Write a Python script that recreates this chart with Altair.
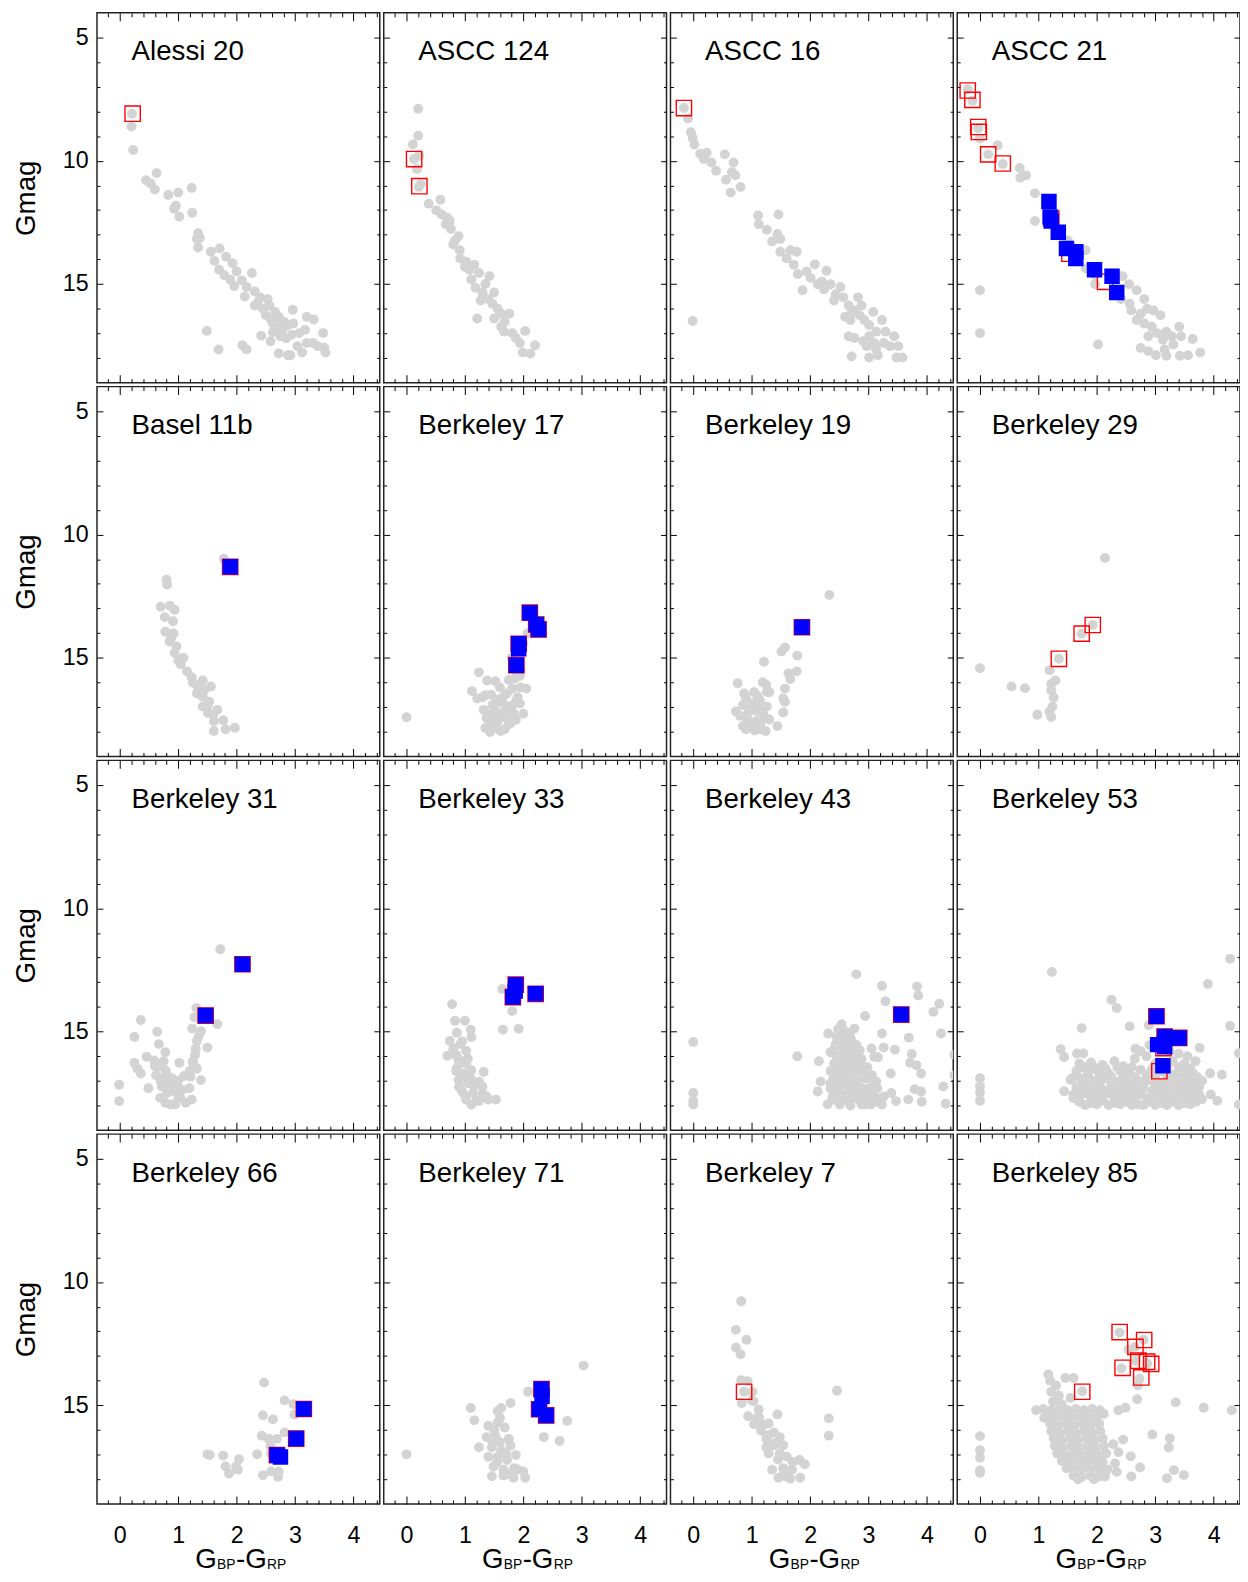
import altair as alt
import pandas as pd

# ---------------- data (G_BP-G_RP, Gmag) ----------------
alessi20_gray = [(0.21,8.09),(0.20,8.61),(0.23,9.56),(0.45,10.79),(0.53,10.92),(0.63,10.50),(0.60,11.16),(0.83,11.39),(1.00,11.29),(1.23,11.10),(0.96,11.82),(0.93,11.95),(1.02,12.27),(1.24,12.11),(1.34,12.94),(1.37,13.13),(1.32,13.17),(1.34,13.52),(1.56,13.69),(1.71,13.56),(1.62,14.06),(1.82,13.89),(1.93,14.16),(1.70,14.42),(1.79,14.64),(2.00,14.49),(1.89,14.82),(1.96,15.08),(2.09,14.85),(2.17,15.12),(2.26,14.55),(2.14,15.51),(2.31,15.30),(2.40,15.54),(2.31,15.87),(2.53,15.61),(2.45,16.00),(2.56,15.87),(2.50,16.27),(2.66,16.13),(2.59,16.46),(2.72,16.33),(2.81,16.53),(2.68,16.73),(2.78,16.86),(2.88,16.66),(2.97,16.60),(2.96,16.04),(3.20,16.33),(3.32,16.44),(3.17,16.86),(3.07,16.99),(2.94,17.06),(2.75,17.12),(2.58,17.32),(2.42,17.10),(2.72,17.81),(2.88,17.89),(2.92,17.89),(3.12,17.78),(3.04,17.52),(3.20,17.39),(3.31,17.39),(3.48,16.99),(3.50,17.58),(3.52,17.78),(3.39,17.52),(1.49,16.90),(1.69,17.65),(2.10,17.48),(2.17,17.65),(2.62,16.60),(2.36,15.75),(2.62,16.95),(2.85,17.20)]
alessi20_red = [(0.22,8.09)]
alessi20_blue = []

ascc124_gray = [(0.20,7.89),(0.20,8.98),(0.11,9.34),(0.22,9.80),(0.13,9.93),(0.18,10.33),(0.24,10.95),(0.21,11.06),(0.58,11.58),(0.38,11.74),(0.51,12.01),(0.60,12.18),(0.70,12.31),(0.74,12.44),(0.67,12.57),(0.76,12.77),(0.89,13.06),(0.83,13.23),(0.91,13.63),(0.92,13.96),(1.02,14.09),(1.16,14.22),(1.08,14.42),(1.24,14.55),(1.42,14.68),(1.11,14.82),(1.18,15.15),(1.30,15.34),(1.50,15.34),(1.40,15.61),(1.27,15.67),(1.47,15.80),(1.56,16.00),(1.62,16.20),(1.76,16.20),(1.21,16.40),(1.50,16.40),(1.68,16.53),(1.62,16.73),(1.67,16.93),(1.81,16.99),(2.03,16.90),(1.94,17.39),(2.20,17.48),(1.99,17.78),(2.12,17.82),(1.87,17.19),(0.80,13.40),(1.00,14.30),(1.35,15.00)]
ascc124_red = [(0.13,9.93),(0.22,11.03)]
ascc124_blue = []

ascc16_gray = [(-0.16,7.86),(-0.09,8.28),(-0.04,8.84),(-0.01,9.08),(0.02,9.34),(0.12,9.71),(0.23,9.67),(0.18,9.93),(0.31,10.07),(0.39,10.40),(0.54,9.74),(0.69,10.07),(0.66,10.46),(0.72,10.59),(0.56,10.77),(0.81,11.06),(0.64,11.29),(1.11,12.22),(1.46,12.18),(1.12,12.57),(1.26,12.80),(1.44,12.97),(1.35,13.27),(1.49,13.17),(1.49,13.69),(1.66,13.63),(1.77,13.69),(1.60,13.96),(1.72,14.22),(1.79,14.59),(1.87,15.25),(1.94,14.49),(2.08,14.20),(2.01,14.75),(2.28,14.46),(2.13,15.01),(2.24,15.21),(2.35,15.01),(2.44,15.41),(2.52,15.12),(2.41,15.67),(2.57,15.54),(2.66,15.87),(2.82,15.54),(2.76,16.07),(2.88,15.87),(2.60,16.33),(2.69,16.46),(2.85,16.27),(2.93,16.46),(3.08,16.13),(3.01,16.66),(3.23,16.46),(2.66,17.12),(2.76,17.19),(2.91,17.32),(3.01,17.12),(3.13,16.93),(3.29,16.93),(3.44,17.12),(3.26,17.39),(3.37,17.52),(3.51,17.52),(2.97,17.52),(3.13,17.65),(2.71,17.94),(3.01,17.98),(3.16,17.89),(3.48,17.98),(3.58,17.98),(-0.01,16.50),(2.20,14.90),(2.70,16.20),(3.10,17.40)]
ascc16_red = [(-0.16,7.86)]
ascc16_blue = []

ascc21_gray = [(-0.21,7.10),(-0.13,7.56),(-0.03,8.68),(0.00,9.10),(0.30,9.37),(0.14,9.74),(0.39,10.13),(0.68,10.29),(0.79,10.59),(0.69,10.69),(0.94,11.32),(1.16,12.44),(0.94,12.44),(1.50,13.23),(1.81,13.63),(1.81,14.36),(1.97,14.62),(1.97,15.01),(2.44,14.68),(2.55,15.01),(2.68,15.25),(2.41,15.61),(2.56,15.80),(2.59,16.07),(2.81,15.61),(2.75,16.20),(2.86,16.00),(2.68,16.46),(2.97,16.07),(3.09,16.27),(2.81,16.60),(2.94,16.73),(2.88,17.12),(3.03,16.99),(3.19,16.93),(3.13,17.26),(3.28,17.12),(3.41,16.73),(3.44,17.12),(3.31,17.45),(3.16,17.65),(3.01,17.89),(3.19,17.91),(3.42,17.91),(3.56,17.89),(3.64,17.23),(3.77,17.78),(2.75,17.59),(2.88,17.72),(2.02,17.45),(0.00,15.25),(0.00,16.99)]
ascc21_red = [(-0.21,7.15),(-0.13,7.53),(-0.03,8.63),(-0.02,8.83),(0.14,9.74),(0.39,10.11),(1.22,12.35),(1.53,13.77),(2.14,14.91)]
ascc21_blue = [(1.18,11.65),(1.20,12.28),(1.22,12.44),(1.34,12.90),(1.48,13.56),(1.64,13.69),(1.64,13.96),(1.96,14.42),(2.26,14.68),(2.34,15.34)]

basel11b_gray = [(1.78,10.98),(0.80,11.83),(0.81,12.03),(0.70,12.93),(0.86,12.89),(0.94,13.05),(0.77,13.35),(0.91,13.52),(0.78,13.94),(0.92,14.01),(0.85,14.34),(0.97,14.54),(0.94,14.80),(1.09,15.00),(1.04,15.26),(1.15,15.55),(1.23,15.79),(1.42,15.92),(1.32,16.12),(1.56,16.16),(1.32,16.45),(1.42,16.58),(1.53,16.78),(1.42,16.98),(1.67,17.11),(1.51,17.24),(1.61,17.57),(1.77,17.53),(1.61,17.97),(1.81,17.90),(1.97,17.84),(0.88,14.20),(1.00,15.10),(1.25,16.00),(1.45,16.30),(1.50,16.95),(1.60,17.30)]
basel11b_red = [(1.89,11.31)]
basel11b_blue = [(1.89,11.31)]

berkeley17_gray = [(0.00,17.41),(1.24,15.59),(1.38,15.92),(1.52,15.95),(1.12,16.35),(1.21,16.65),(1.35,16.52),(1.32,17.11),(1.47,16.91),(1.43,17.70),(1.56,17.57),(1.65,17.24),(1.72,16.45),(1.81,16.25),(1.87,16.78),(1.94,16.85),(2.00,17.27),(1.78,17.64),(1.61,17.97),(1.43,18.01),(1.68,17.90),(2.05,16.25),(1.94,15.73),(1.80,15.00),(2.00,14.41),(2.07,14.01),(1.73,17.11),(1.52,17.11),(1.37,17.44),(1.83,17.24),(1.61,16.78),(1.87,17.51),(1.30,16.60),(1.45,16.50),(1.55,16.70),(1.65,16.60),(1.40,17.30),(1.50,17.35),(1.60,17.45),(1.70,17.40),(1.75,17.70),(1.55,17.85),(1.35,17.85),(1.45,17.60),(1.80,16.95),(1.70,16.95),(1.90,16.60),(1.95,16.20),(1.85,15.85),(1.95,15.50),(1.90,15.70),(1.60,16.20),(1.75,15.90)]
berkeley17_red = [(2.11,13.17),(2.22,13.65),(2.26,13.85),(1.92,14.43),(1.88,15.30)]
berkeley17_blue = [(2.11,13.17),(2.22,13.65),(2.26,13.85),(1.92,14.43),(1.92,14.63),(1.88,15.30)]

berkeley19_gray = [(2.33,12.45),(1.57,14.58),(1.51,14.74),(1.78,14.91),(1.21,15.16),(1.63,15.63),(1.77,15.55),(1.66,15.86),(1.57,16.25),(0.76,16.03),(1.19,15.99),(0.87,16.45),(1.04,16.39),(1.26,16.39),(1.54,16.65),(1.57,16.78),(1.54,17.22),(0.73,17.18),(0.85,16.91),(1.01,16.85),(1.14,16.72),(1.26,16.98),(0.94,17.24),(1.10,17.18),(1.22,17.44),(0.85,17.77),(1.01,17.84),(1.16,17.90),(1.24,17.97),(1.44,17.77),(1.07,17.57),(0.92,17.51),(0.90,16.60),(1.10,16.55),(1.00,17.00),(1.15,17.05),(0.80,17.35),(1.20,17.30),(0.95,17.60),(1.15,17.65),(0.90,17.90),(1.05,17.95),(1.30,17.50),(1.30,16.40),(1.25,16.10)]
berkeley19_red = [(1.86,13.76)]
berkeley19_blue = [(1.86,13.76)]

berkeley29_gray = [(2.14,10.95),(1.93,13.67),(1.74,14.02),(1.35,15.04),(0.00,15.42),(0.54,16.16),(0.77,16.23),(1.19,15.50),(1.29,15.92),(1.22,16.06),(1.22,16.32),(1.26,16.61),(1.24,16.98),(1.19,17.18),(0.98,17.31),(1.22,17.40)]
berkeley29_red = [(1.93,13.67),(1.74,14.02),(1.35,15.04)]
berkeley29_blue = []

berkeley31_gray = [(1.72,11.66),(1.31,14.04),(1.28,14.42),(1.67,14.70),(1.24,14.88),(1.39,14.99),(1.50,15.65),(1.32,15.38),(1.29,15.94),(1.26,16.31),(1.32,16.50),(1.39,16.97),(1.21,16.83),(1.19,17.30),(1.02,16.27),(0.36,14.53),(0.64,15.01),(0.25,15.22),(0.67,15.51),(0.78,15.84),(0.46,16.02),(0.59,16.17),(0.25,16.27),(0.30,16.50),(0.36,16.70),(0.65,16.44),(0.78,16.57),(0.62,16.77),(0.75,16.90),(0.86,17.10),(0.97,17.16),(0.72,17.23),(0.49,17.30),(-0.01,17.16),(-0.01,17.82),(0.81,17.49),(0.94,17.43),(1.07,17.36),(0.78,17.89),(0.87,17.96),(1.13,17.89),(1.23,17.76),(1.04,17.69),(0.69,17.69),(0.80,16.70),(0.90,16.90),(1.00,17.00),(0.85,17.40),(1.00,17.70),(0.95,17.95),(0.70,17.00),(1.10,16.80),(1.20,16.60),(1.25,16.20),(1.30,15.70),(1.35,15.20),(0.60,16.40),(0.75,16.20)]
berkeley31_red = [(2.10,12.27),(1.47,14.35)]
berkeley31_blue = [(2.10,12.27),(1.47,14.35)]

berkeley33_gray = [(1.64,13.27),(1.81,14.17),(1.65,14.92),(1.92,14.89),(0.78,13.89),(0.83,14.56),(1.00,14.56),(1.10,14.92),(0.86,15.05),(1.11,15.22),(0.74,15.38),(0.92,15.51),(1.02,15.78),(0.70,15.98),(0.89,16.11),(1.02,16.31),(0.86,16.50),(0.99,16.70),(1.11,16.57),(1.32,16.64),(0.89,16.97),(1.05,17.10),(1.24,17.03),(1.30,17.23),(0.95,17.43),(1.14,17.49),(1.37,17.63),(1.53,17.76),(1.02,17.76),(1.11,17.96),(1.24,17.82),(1.40,17.76),(0.80,15.70),(0.90,16.30),(0.95,16.80),(0.85,16.60),(1.10,16.90),(1.15,17.20),(0.90,17.25),(1.00,17.60),(1.20,17.80),(1.30,17.50),(0.95,15.40),(1.05,16.10),(0.85,15.95)]
berkeley33_red = [(1.87,13.10),(1.82,13.60),(2.21,13.47)]
berkeley33_blue = [(1.87,13.10),(1.86,13.36),(1.82,13.60),(2.21,13.47)]

berkeley43_gray = [(0.00,15.42),(0.00,17.49),(0.00,17.82),(0.00,17.96),(1.78,16.00),(2.15,16.20),(2.18,17.03),(2.13,17.43),(2.31,15.08),(2.35,15.84),(2.38,17.69),(2.54,14.70),(2.51,15.12),(2.76,14.88),(2.63,15.38),(2.79,15.54),(2.44,15.51),(2.57,15.84),(2.76,16.00),(2.88,16.11),(2.41,16.31),(2.63,16.24),(2.82,16.44),(2.97,16.64),(2.51,16.70),(2.69,16.77),(2.88,16.83),(3.06,16.77),(3.13,17.03),(2.44,17.16),(2.63,17.23),(2.82,17.20),(3.01,17.30),(2.54,17.56),(2.72,17.63),(2.91,17.56),(3.07,17.63),(2.51,17.96),(2.69,18.00),(2.88,17.96),(3.04,17.96),(3.23,17.96),(2.79,12.68),(3.23,13.14),(3.83,13.17),(3.85,13.54),(3.29,13.77),(2.94,14.37),(3.62,14.46),(4.21,13.87),(4.11,14.20),(4.24,15.08),(3.23,15.08),(3.69,15.25),(3.05,15.69),(3.26,15.65),(3.45,15.74),(3.10,16.02),(3.16,16.04),(3.74,15.91),(3.71,16.27),(3.82,16.37),(3.90,16.70),(3.38,16.70),(4.47,15.94),(4.47,16.77),(4.28,17.23),(3.79,17.34),(3.90,17.43),(3.39,17.49),(3.47,17.82),(3.68,17.76),(3.91,17.85),(4.32,17.93),(3.26,17.63),(2.35,17.10),(2.45,15.20),(2.60,15.00),(2.70,15.30),(2.55,15.60),(2.70,15.70),(2.45,16.00),(2.60,16.10),(2.90,16.40),(2.50,16.50),(2.65,16.50),(2.75,16.60),(2.40,16.90),(2.60,16.90),(2.80,17.00),(2.95,16.90),(2.40,17.40),(2.60,17.40),(2.80,17.40),(3.00,17.50),(2.45,17.80),(2.65,17.80),(2.85,17.80),(3.05,17.80),(2.35,17.30),(3.15,17.30),(2.30,17.95),(2.48,14.90),(2.68,15.10),(2.58,15.35),(2.85,15.75),(2.68,15.95),(2.52,16.20),(2.78,16.25),(2.98,16.45),(3.08,17.15),(2.55,17.05),(2.72,17.15),(2.95,17.75),(3.15,17.85),
    (2.50,15.45),(2.65,15.55),(2.40,15.75),(2.60,15.80),(2.75,15.90),(2.55,16.35),(2.70,16.35),(2.85,16.60),(2.45,16.75),(2.62,16.70),(2.50,17.30),(2.70,17.30),(2.90,17.30),(2.55,17.70),(2.75,17.70),(2.40,17.60),(2.95,17.95),(3.10,17.60),(2.35,16.60)]
berkeley43_red = [(3.56,14.31)]
berkeley43_blue = [(3.56,14.31)]

berkeley53_gray = [(0.00,16.89),(0.00,17.22),(0.00,17.48),(0.00,17.81),(1.23,12.58),(4.28,12.05),(3.90,13.07),(4.28,14.77),(4.43,15.88),(2.25,13.71),(2.34,14.04),(1.74,14.86),(2.56,14.79),(2.89,14.74),(1.38,15.72),(1.44,16.03),(1.66,15.89),(1.77,15.89),(2.66,15.70),(3.76,15.66),(3.69,16.20),(4.14,16.75),(3.94,16.69),(3.95,17.55),(4.06,17.81),(4.43,17.96),(1.44,17.42),(1.58,16.89),
    (1.70,16.30),(1.90,16.25),(2.10,16.35),(2.30,16.20),(2.45,16.40),(2.65,16.10),(2.85,16.00),(3.00,16.30),(3.30,16.20),(3.50,16.30),(2.75,15.80),(3.40,15.90),(3.55,16.00),(2.90,15.55),(3.25,15.80),(2.60,16.45),(1.80,16.45),
    (1.65,16.60),(1.85,16.65),(2.00,16.55),(2.20,16.70),(2.40,16.60),(2.55,16.75),(2.75,16.55),(2.90,16.70),(3.10,16.60),(3.30,16.75),(3.50,16.60),(3.65,16.70),(2.10,16.80),(2.85,16.85),(3.20,16.45),
    (1.55,16.95),(1.75,16.90),(1.95,17.00),(2.15,16.90),(2.35,17.05),(2.50,16.95),(2.70,17.00),(2.90,16.95),(3.05,17.05),(3.25,16.95),(3.45,17.05),(3.65,16.95),(3.80,17.00),(1.90,17.10),(2.60,17.15),(3.35,17.15),
    (1.65,17.25),(1.85,17.20),(2.05,17.30),(2.25,17.20),(2.45,17.30),(2.60,17.25),(2.80,17.30),(3.00,17.20),(3.20,17.30),(3.40,17.20),(3.60,17.30),(3.75,17.25),(2.15,17.40),(2.95,17.40),(3.50,17.40),
    (1.60,17.55),(1.80,17.50),(2.00,17.60),(2.20,17.50),(2.40,17.60),(2.55,17.50),(2.75,17.55),(2.95,17.50),(3.15,17.60),(3.35,17.50),(3.55,17.60),(3.75,17.55),(1.70,17.70),(2.30,17.70),(2.85,17.70),(3.45,17.70),
    (1.70,17.85),(1.90,17.90),(2.10,17.80),(2.30,17.90),(2.50,17.85),(2.70,17.95),(2.90,17.85),(3.10,17.90),(3.30,17.85),(3.50,17.90),(3.70,17.85),
    (1.80,17.98),(2.20,17.98),(2.60,17.98),(3.00,17.98),(3.40,17.98),
    (1.75,16.45),(1.95,16.45),(2.15,16.50),(2.35,16.45),(2.55,16.55),(2.95,16.50),(3.15,16.40),(3.40,16.45),(3.60,16.50),
    (1.65,16.80),(1.85,16.80),(2.05,16.75),(2.25,16.85),(2.45,16.80),(2.65,16.85),(3.00,16.85),(3.20,16.80),(3.40,16.85),(3.55,16.80),(3.72,16.85),
    (1.75,17.10),(2.05,17.15),(2.25,17.05),(2.45,17.15),(2.80,17.15),(3.00,17.10),(3.15,17.15),(3.55,17.15),(3.70,17.10),
    (1.70,17.40),(1.95,17.45),(2.35,17.45),(2.50,17.40),(2.70,17.40),(3.10,17.45),(3.30,17.40),(3.65,17.45),
    (1.60,17.70),(1.90,17.70),(2.10,17.70),(2.50,17.70),(2.65,17.70),(3.05,17.70),(3.25,17.72),(3.65,17.70),(3.80,17.75),
    (2.00,17.95),(2.40,17.95),(2.80,17.98),(3.20,17.98),(3.60,17.95)]
berkeley53_red = [(3.02,14.38),(3.16,15.20),(3.41,15.26),(3.14,15.67),(3.07,16.61)]
berkeley53_blue = [(3.02,14.38),(3.16,15.20),(3.41,15.26),(3.04,15.53),(3.16,15.62),(3.13,16.39)]

berkeley66_gray = [(2.47,14.08),(2.82,14.80),(2.97,14.95),(2.45,15.40),(2.62,15.57),(2.99,15.37),(2.82,16.10),(2.43,16.23),(2.55,16.36),(2.69,16.36),(2.58,16.66),(2.35,16.99),(2.59,16.95),(1.50,16.99),(1.54,17.02),(1.77,17.04),(2.04,17.19),(1.81,17.48),(1.99,17.48),(1.87,17.77),(2.02,17.61),(2.45,17.84),(2.59,17.68),(2.72,17.68),(2.71,17.90)]
berkeley66_red = [(3.15,15.15),(3.02,16.35),(2.69,17.02)]
berkeley66_blue = [(3.15,15.15),(3.02,16.35),(2.69,17.02),(2.75,17.10)]

berkeley71_gray = [(3.03,13.39),(2.08,14.45),(2.75,15.63),(2.35,16.29),(2.62,16.45),(0.00,16.99),(1.10,15.11),(1.16,15.61),(1.78,14.91),(1.56,15.24),(1.62,15.11),(1.40,15.83),(1.56,15.70),(1.68,15.90),(1.37,16.29),(1.52,16.23),(1.75,16.36),(1.24,16.70),(1.46,16.70),(1.62,16.83),(1.78,16.63),(1.40,17.09),(1.56,17.09),(1.72,17.22),(1.87,17.02),(1.49,17.48),(1.66,17.61),(1.84,17.55),(1.46,17.88),(1.66,17.85),(1.83,17.94),(2.03,17.94),(2.00,17.68),(1.60,15.50),(1.50,16.00),(1.60,16.50),(1.55,17.30),(1.75,17.80),(1.90,17.60),(1.70,16.95),(1.45,16.40)]
berkeley71_red = [(2.31,14.34),(2.27,15.16),(2.39,15.41)]
berkeley71_blue = [(2.31,14.34),(2.32,14.63),(2.27,15.16),(2.39,15.41)]

berkeley7_gray = [(0.82,10.78),(0.73,11.94),(0.91,12.34),(0.73,12.66),(0.81,12.93),(0.82,13.98),(0.93,14.02),(0.87,14.45),(1.01,14.45),(0.83,14.91),(1.03,14.84),(1.12,15.17),(0.94,15.44),(1.13,15.50),(1.44,15.37),(1.04,15.77),(1.29,15.74),(1.16,16.03),(1.38,16.10),(1.25,16.36),(1.48,16.29),(1.38,16.62),(1.54,16.62),(1.29,16.95),(1.48,16.95),(1.60,17.08),(1.82,17.22),(1.91,17.39),(1.35,17.61),(1.54,17.55),(1.69,17.61),(1.46,17.94),(1.66,17.98),(1.83,17.94),(2.46,14.41),(2.32,15.53),(2.32,16.23),(1.00,14.80),(1.10,15.50),(1.20,15.80),(1.30,16.20),(1.40,16.55),(1.45,17.20),(1.55,17.80),(1.25,16.70),(1.70,17.30),(1.60,17.90)]
berkeley7_red = [(0.87,14.45)]
berkeley7_blue = []

berkeley85_gray = [(2.39,12.05),(2.54,12.74),(2.65,12.63),(2.80,12.34),(2.67,13.20),(2.86,13.30),(2.42,13.50),(2.73,13.92),(2.70,14.19),(1.75,14.43),(1.17,13.75),(1.46,13.89),(1.60,13.89),
    (0.96,15.20),(1.10,15.50),(2.37,15.20),(2.49,15.10),(2.69,14.75),(3.35,14.88),(3.83,15.10),(4.31,15.20),(2.95,16.18),(3.25,16.34),(3.23,16.71),(2.28,16.58),(2.45,16.39),(2.37,16.90),(2.58,17.07),(2.31,17.36),(2.34,17.70),(2.74,17.52),(2.59,17.89),(3.32,17.63),(3.20,17.96),(3.49,17.83),(2.14,17.89),
    (0.00,16.25),(0.00,16.82),(0.00,17.13),(0.00,17.64),(0.00,17.74),
    (1.20,14.00),(1.30,14.20),(1.22,14.45),(1.35,14.60),(1.25,14.85),(1.40,14.95),(1.55,14.70),
    (1.08,15.15),(1.22,15.20),(1.36,15.15),(1.50,15.20),(1.64,15.15),(1.78,15.20),(1.92,15.15),(2.05,15.20),(2.12,15.35),
    (1.15,15.45),(1.29,15.50),(1.43,15.45),(1.57,15.50),(1.71,15.45),(1.85,15.50),(1.99,15.45),
    (1.20,15.75),(1.34,15.80),(1.48,15.75),(1.62,15.80),(1.76,15.75),(1.90,15.80),(2.04,15.75),
    (1.22,16.05),(1.36,16.10),(1.50,16.05),(1.64,16.10),(1.78,16.05),(1.92,16.10),(2.06,16.05),
    (1.26,16.35),(1.40,16.40),(1.54,16.35),(1.68,16.40),(1.82,16.35),(1.96,16.40),(2.10,16.35),
    (1.28,16.65),(1.42,16.70),(1.56,16.65),(1.70,16.70),(1.84,16.65),(1.98,16.70),(2.12,16.65),
    (1.32,16.95),(1.46,17.00),(1.60,16.95),(1.74,17.00),(1.88,16.95),(2.02,17.00),(2.16,16.95),
    (1.40,17.25),(1.54,17.30),(1.68,17.25),(1.82,17.30),(1.96,17.25),(2.10,17.30),
    (1.48,17.55),(1.62,17.60),(1.76,17.55),(1.90,17.60),(2.04,17.55),(2.18,17.60),
    (1.60,17.85),(1.74,17.90),(1.88,17.85),(2.02,17.90),(1.68,18.00),(1.95,18.00)]
berkeley85_red = [(2.39,12.03),(2.81,12.35),(2.66,12.63),(2.71,13.19),(2.86,13.23),(2.93,13.32),(2.44,13.48),(2.76,13.87),(1.75,14.45)]
berkeley85_blue = []

panel_names = ["Alessi 20", "ASCC 124", "ASCC 16", "ASCC 21",
               "Basel 11b", "Berkeley 17", "Berkeley 19", "Berkeley 29",
               "Berkeley 31", "Berkeley 33", "Berkeley 43", "Berkeley 53",
               "Berkeley 66", "Berkeley 71", "Berkeley 7", "Berkeley 85"]
panel_gray = [alessi20_gray, ascc124_gray, ascc16_gray, ascc21_gray,
              basel11b_gray, berkeley17_gray, berkeley19_gray, berkeley29_gray,
              berkeley31_gray, berkeley33_gray, berkeley43_gray, berkeley53_gray,
              berkeley66_gray, berkeley71_gray, berkeley7_gray, berkeley85_gray]
panel_red = [alessi20_red, ascc124_red, ascc16_red, ascc21_red,
             basel11b_red, berkeley17_red, berkeley19_red, berkeley29_red,
             berkeley31_red, berkeley33_red, berkeley43_red, berkeley53_red,
             berkeley66_red, berkeley71_red, berkeley7_red, berkeley85_red]
panel_blue = [alessi20_blue, ascc124_blue, ascc16_blue, ascc21_blue,
              basel11b_blue, berkeley17_blue, berkeley19_blue, berkeley29_blue,
              berkeley31_blue, berkeley33_blue, berkeley43_blue, berkeley53_blue,
              berkeley66_blue, berkeley71_blue, berkeley7_blue, berkeley85_blue]

x_tick_values = [-0.2, 0.0, 0.2, 0.4, 0.6, 0.8, 1.0, 1.2, 1.4, 1.6, 1.8, 2.0, 2.2, 2.4,
                 2.6, 2.8, 3.0, 3.2, 3.4, 3.6, 3.8, 4.0, 4.2, 4.4]
y_tick_values = [5, 6, 7, 8, 9, 10, 11, 12, 13, 14, 15, 16, 17, 18]
x_label_values = [0, 1, 2, 3, 4]
y_label_values = [5, 10, 15]
x_title_parts = ["G", "BP", "-G", "RP"]
y_title = "Gmag"

# ---------------- layout / style ----------------
W, H = 286, 374
XDOM = [-0.39, 4.45]
YDOM = [4, 19]
FONT = "Liberation Sans"


def to_df(pts):
    if pts:
        return pd.DataFrame(pts, columns=["x", "y"])
    return pd.DataFrame({"x": pd.Series(dtype=float), "y": pd.Series(dtype=float)})


def tick_axis(orient, offset, values, test, major, minor):
    return alt.Axis(orient=orient, offset=offset, values=values, labels=False,
                    domain=False, grid=False, title=None, ticks=True,
                    tickColor="black", tickWidth=1,
                    tickSize={"condition": {"test": test, "value": major}, "value": minor})


XT = "abs(datum.value - round(datum.value)) < 0.001"
YT = "datum.value % 5 === 0"


def make_panel(i):
    row, col = divmod(i, 4)
    bottom = row == 3
    left = col == 0
    xs = alt.Scale(domain=XDOM, nice=False, zero=False)
    ys = alt.Scale(domain=YDOM, reverse=True, nice=False, zero=False)

    ax_b = tick_axis("top", -H, x_tick_values, XT, 8, 4)
    ax_t = tick_axis("bottom", -H, x_tick_values, XT, 8, 4)
    ay_l = tick_axis("right", -W, y_tick_values, YT, 6, 3)
    ay_r = tick_axis("left", -W, y_tick_values, YT, 6, 3)

    if bottom:
        ax_lab = alt.Axis(orient="bottom", values=x_label_values, ticks=False, domain=False,
                          grid=False, title=None, labelFontSize=23.5, labelPadding=20,
                          labelColor="black", labelFont=FONT)
    else:
        ax_lab = None
    if left:
        ay_lab = alt.Axis(orient="left", values=y_label_values, ticks=False, domain=False,
                          grid=False, title=y_title, titleFontSize=28, titleFontWeight="normal",
                          titlePadding=22.5, titleColor="black", titleFont=FONT,
                          labelFontSize=23.5, labelPadding=9, labelColor="black", labelFont=FONT)
    else:
        ay_lab = None

    g = alt.Chart(to_df(panel_gray[i])).mark_circle(
        size=100, color="#d3d3d3", opacity=1, clip=True).encode(
        x=alt.X("x:Q", scale=xs, axis=ax_b), y=alt.Y("y:Q", scale=ys, axis=ay_l))
    r = alt.Chart(to_df(panel_red[i])).mark_square(
        size=240, filled=False, color="#ff0000", strokeWidth=1.4, opacity=1, clip=True).encode(
        x=alt.X("x:Q", scale=xs, axis=ax_t), y=alt.Y("y:Q", scale=ys, axis=ay_r))
    b = alt.Chart(to_df(panel_blue[i])).mark_square(
        size=245, filled=True, color="#0000ff", opacity=1, clip=True).encode(
        x=alt.X("x:Q", scale=xs, axis=ax_lab), y=alt.Y("y:Q", scale=ys, axis=ay_lab))
    lab = alt.Chart(pd.DataFrame({"name": [panel_names[i]]})).mark_text(
        align="left", baseline="alphabetic", fontSize=28, color="black", font=FONT).encode(
        text="name:N", x=alt.value(35), y=alt.value(48))
    layers = [g, r, b, lab]
    if bottom:
        specs = [(x_title_parts[0], 99.5, H + 65, 28), (x_title_parts[1], 121.5, H + 65.5, 14),
                 (x_title_parts[2], 140.5, H + 65, 28), (x_title_parts[3], 172, H + 65.5, 14)]
        for t, px, py, fs in specs:
            layers.append(alt.Chart(pd.DataFrame({"t": [t]})).mark_text(
                align="left", baseline="alphabetic", fontSize=fs, color="black", font=FONT).encode(
                text="t:N", x=alt.value(px), y=alt.value(py)))
    return alt.layer(*layers).properties(width=W, height=H).resolve_axis(
        x="independent", y="independent")


rows = []
for r in range(4):
    rows.append(alt.hconcat(*[make_panel(r * 4 + c) for c in range(4)], spacing=0))

chart = alt.vconcat(*rows, spacing=0).properties(
    padding={"left": 3, "top": -6, "right": -2, "bottom": -6}
).configure(font=FONT).configure_view(stroke="#222222", strokeWidth=1.5)

chart.save("out.html", embed_options={"renderer": "svg", "actions": False})
